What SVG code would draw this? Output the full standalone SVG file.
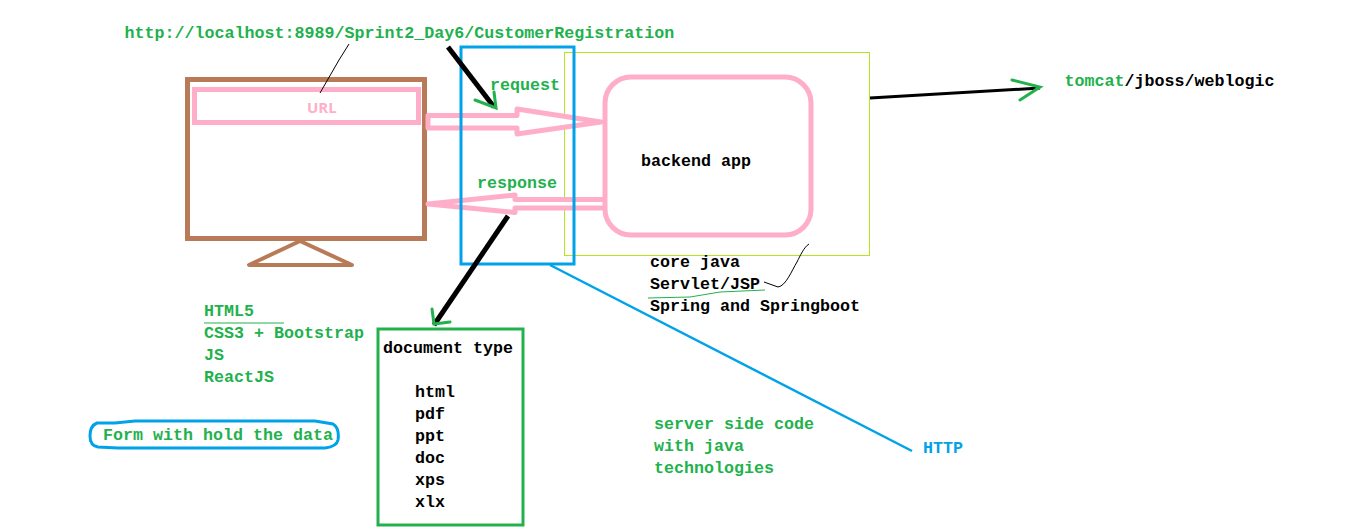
<svg xmlns="http://www.w3.org/2000/svg" width="1360" height="532" viewBox="0 0 1360 532">
<style>
text{font-family:"Liberation Mono","DejaVu Sans Mono",monospace;font-weight:700;font-size:16.67px;fill:#000}
.g{fill:#22b14c}.b{fill:#00a2e8}.p{fill:#ffaec9}
.pk{fill:none;stroke:#ffaec9;stroke-width:5}
.ar{fill:#fff;stroke:#ffaec9;stroke-width:5;stroke-linejoin:round}
.br{fill:none;stroke:#b97a57;stroke-width:5}
.k{fill:none;stroke:#000;stroke-width:5}
.t{fill:none;stroke:#000;stroke-width:1}
.gl{fill:none;stroke:#22b14c;stroke-width:3;stroke-linecap:round}
.gt{fill:none;stroke:#22b14c;stroke-width:1}
</style>
<rect width="1360" height="532" fill="#fff"/>
<g id="app-container"><rect x="564.5" y="52.5" width="305" height="203" fill="none" stroke="#b5e61d" stroke-width="1"/></g>
<g id="monitor">
<rect x="187.5" y="79.5" width="237" height="159" class="br"/>
<path d="M300 241L249 265H352Z" class="br" stroke-linejoin="round" style="stroke-width:4"/>
<rect x="194.5" y="89.5" width="224" height="33" class="pk"/>
<text x="307" y="112.500" class="p" style="font-family:'Open Sans','Liberation Sans',sans-serif;font-size:15px">URL</text>
</g>
<g id="connectors">
<path d="M428 115.500H517V109L601 122L517 134V128H428Z" class="ar"/>
<path d="M604 199.500H515V195L428 204L515 212.500V208H604" class="ar"/>
</g>
<g id="backend">
<rect x="605" y="77" width="206" height="158" rx="26" class="pk"/>
<text x="641" y="166">backend app</text>
</g>
<g id="http-box"><rect x="461" y="47" width="113" height="217" fill="none" stroke="#00a2e8" stroke-width="3"/></g>
<g id="lines">
<path d="M448 47L494 107" class="k"/>
<path d="M475 100L496 108L494 92" class="gl"/>
<path d="M508 216L434 325" class="k"/>
<path d="M432 309L434 324L450 322" class="gl"/>
<path d="M870 98L1040 88" class="k" style="stroke-width:3"/>
<path d="M1012 80L1040 87L1020 100" class="gl"/>
<path d="M320 93L339 60L349 44" class="t"/>
<path d="M764 282L778 287C786 286 792 270 797 262C800 256 804 247 809 244" class="t"/>
<path d="M648 298L690 297L720 292L765 290" class="gt"/>
<path d="M204 323H284" class="gt"/>
<path d="M550 265L912 451" fill="none" stroke="#00a2e8" stroke-width="2.5"/>
</g>
<g id="url-label"><text x="124.500" y="37.500" class="g">http://localhost:8989/Sprint2_Day6/CustomerRegistration</text></g>
<g id="request-label"><text x="490" y="90" class="g">request</text></g>
<g id="response-label"><text x="477" y="188" class="g">response</text></g>
<g id="servers-label"><text x="1064.500" y="86"><tspan class="g">tomcat</tspan>/jboss/weblogic</text></g>
<g id="java-stack"><text x="650" y="267">core java</text><text x="650" y="289">Servlet/JSP</text><text x="650" y="311">Spring and Springboot</text></g>
<g id="frontend-stack"><text x="204" y="316" class="g">HTML5</text><text x="204" y="338" class="g">CSS3 + Bootstrap</text><text x="204" y="360" class="g">JS</text><text x="204" y="382" class="g">ReactJS</text></g>
<g id="form-note">
<path d="M97 423H115L135 421H315L333 424C338 427 339 433 338 440C337 445 333 447 325 448H118L98 447C92 446 90 442 90 436C90 429 92 425 97 423Z" fill="none" stroke="#00a2e8" stroke-width="3"/>
<text x="103" y="440" class="g">Form with hold the data</text>
</g>
<g id="document-type">
<rect x="378" y="329" width="145" height="196" fill="none" stroke="#22b14c" stroke-width="3"/>
<text x="383" y="353">document type</text>
<text x="415" y="397">html</text><text x="415" y="419">pdf</text><text x="415" y="441">ppt</text><text x="415" y="463">doc</text><text x="415" y="485">xps</text><text x="415" y="507">xlx</text>
</g>
<g id="server-note"><text x="654" y="429" class="g">server side code</text><text x="654" y="451" class="g">with java</text><text x="654" y="473" class="g">technologies</text></g>
<g id="http-label"><text x="923" y="453" class="b">HTTP</text></g>
</svg>
